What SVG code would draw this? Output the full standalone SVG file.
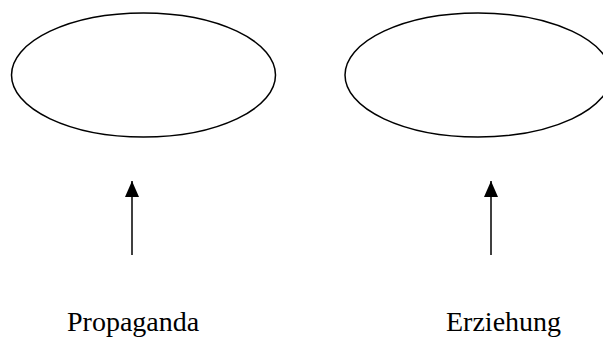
<svg xmlns="http://www.w3.org/2000/svg" width="603" height="356" viewBox="0 0 603 356">
<style>
.node{fill:#fff;stroke:#000;stroke-width:1.5}
.conn{stroke:#000;stroke-width:1.5;fill:none}
.lbl{font-family:"Liberation Serif","Times New Roman",serif;font-size:28px;fill:#000}
</style>
<defs>
<marker id="ah" viewBox="0 0 10 10" refX="10" refY="5" markerWidth="16" markerHeight="14" markerUnits="userSpaceOnUse" orient="auto" preserveAspectRatio="none">
<path d="M0,0 L10,5 L0,10 z" fill="#000"/>
</marker>
</defs>
<rect width="603" height="356" fill="#fff"/>
<g id="ellipse-left"><ellipse class="node" cx="143.5" cy="75" rx="132" ry="62"/></g>
<g id="ellipse-right"><ellipse class="node" cx="478" cy="75" rx="133" ry="62"/></g>
<g id="connectors">
<path class="conn" d="M132,255 L132,181" marker-end="url(#ah)"/>
<path class="conn" d="M491,255 L491,181" marker-end="url(#ah)"/>
</g>
<g id="label-propaganda"><text class="lbl" x="67" y="331">Propaganda</text></g>
<g id="label-erziehung"><text class="lbl" x="446" y="331">Erziehung</text></g>
</svg>
